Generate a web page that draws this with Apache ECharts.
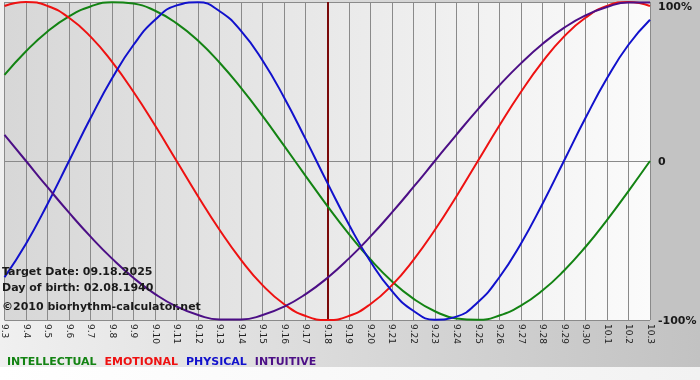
<!DOCTYPE html>
<html>
<head>
<meta charset="utf-8">
<script src="https://cdn.jsdelivr.net/npm/echarts@6/dist/echarts.min.js"></script>
<style>html,body{margin:0;padding:0;background:#fff}#c{width:700px;height:380px}</style>
</head>
<body>
<div id="c"></div>
<script>
// Categories: days from Sep 3 to Oct 3
const categories = ['9.3','9.4','9.5','9.6','9.7','9.8','9.9','9.10','9.11','9.12','9.13','9.14','9.15','9.16','9.17','9.18','9.19','9.20','9.21','9.22','9.23','9.24','9.25','9.26','9.27','9.28','9.29','9.30','10.1','10.2','10.3'];
const intellectual = [54.1,69.0,81.5,91.0,97.2,99.9,99.0,94.5,86.6,75.6,61.8,45.8,28.2,9.5,-9.5,-28.2,-45.8,-61.8,-75.6,-86.6,-94.5,-99.0,-99.9,-97.2,-91.0,-81.5,-69.0,-54.1,-37.2,-18.9,0];
const emotional = [97.5,100,97.5,90.1,78.2,62.3,43.4,22.3,0,-22.3,-43.4,-62.3,-78.2,-90.1,-97.5,-100,-97.5,-90.1,-78.2,-62.3,-43.4,-22.3,0,22.3,43.4,62.3,78.2,90.1,97.5,100,97.5];
const physical = [-73.1,-52.0,-27.0,0,27.0,52.0,73.1,88.8,97.9,99.8,94.2,81.7,63.1,39.8,13.6,-13.6,-39.8,-63.1,-81.7,-94.2,-99.8,-97.9,-88.8,-73.1,-52.0,-27.0,0,27.0,52.0,73.1,88.8];
const intuitive = [16.5,0,-16.5,-32.5,-47.6,-61.4,-73.6,-83.7,-91.6,-96.9,-99.7,-99.7,-96.9,-91.6,-83.7,-73.6,-61.4,-47.6,-32.5,-16.5,0,16.5,32.5,47.6,61.4,73.6,83.7,91.6,96.9,99.7,99.7];
const seriesNames = ['INTELLECTUAL','EMOTIONAL','PHYSICAL','INTUITIVE'];
const yTicks = [-100, 0, 100];
const yTickLabels = ['-100%', '0', '100%'];
const targetDay = '9.18';
const infoLines = ['Target Date: 09.18.2025', 'Day of birth: 02.08.1940', '\u00a92010 biorhythm-calculator.net'];

const FONT = 'Verdana, "DejaVu Sans", sans-serif';
const colors = ['#138313', '#ee1111', '#1111cc', '#4c0f86'];
const dataSets = [intellectual, emotional, physical, intuitive];

const chart = echarts.init(document.getElementById('c'), null, {renderer: 'canvas'});

const series = seriesNames.map((name, i) => ({
  name: name,
  type: 'line',
  data: dataSets[i],
  smooth: true,
  symbol: 'none',
  lineStyle: {width: 2, color: colors[i]},
  itemStyle: {color: colors[i]},
  z: 3 + i,
  markLine: i === 0 ? {
    silent: true,
    symbol: 'none',
    label: {show: false},
    lineStyle: {color: '#7a0a0a', width: 2, type: 'solid'},
    data: [{xAxis: targetDay}],
    z: 2
  } : undefined
}));

chart.setOption({
  animation: false,
  backgroundColor: new echarts.graphic.LinearGradient(0, 0, 1, 0, [
    {offset: 0, color: '#f0f0f0'}, {offset: 1, color: '#c2c2c2'}
  ]),
  graphic: [
    {type: 'rect', shape: {x: 0, y: 367, width: 700, height: 13}, style: {fill: new echarts.graphic.LinearGradient(0,0,1,0,[{offset:0,color:'#ffffff'},{offset:1,color:'#f2f2f2'}])}, z: -10, silent: true},
    {type: 'rect', shape: {x: 650, y: 0, width: 50, height: 320}, style: {fill: '#c3c3c3'}, z: -10, silent: true},
    {type: 'text', left: 2, top: 267, style: {text: infoLines[0], font: 'bold 11px ' + FONT, fill: '#1a1a1a'}, z: 100},
    {type: 'text', left: 2, top: 283, style: {text: infoLines[1], font: 'bold 11px ' + FONT, fill: '#1a1a1a'}, z: 100},
    {type: 'text', left: 2, top: 302, style: {text: infoLines[2], font: 'bold 11px ' + FONT, fill: '#1a1a1a'}, z: 100}
  ],
  legend: {
    left: -3,
    top: 352,
    itemWidth: 0,
    itemHeight: 0,
    itemGap: 3,
    icon: 'rect',
    selectedMode: false,
    data: seriesNames.map((n, i) => ({name: n, textStyle: {color: colors[i]}})),
    textStyle: {fontFamily: FONT, fontWeight: 'bold', fontSize: 11, padding: 0}
  },
  grid: {
    left: 0, right: 50, top: 2, bottom: 60,
    show: true,
    borderWidth: 0,
    backgroundColor: new echarts.graphic.LinearGradient(0, 0, 1, 0, [
      {offset: 0, color: '#d7d7d7'}, {offset: 1, color: '#fbfbfb'}
    ])
  },
  xAxis: {
    type: 'category',
    data: categories,
    boundaryGap: false,
    axisLine: {show: true, lineStyle: {color: '#8a8a8a', width: 1}},
    axisTick: {show: true, length: 4, interval: 0, lineStyle: {color: '#8a8a8a'}},
    axisLabel: {interval: 0, rotate: -90, margin: 4, fontFamily: FONT, fontSize: 9, color: '#222'},
    splitLine: {show: true, interval: 0, lineStyle: {color: '#8a8a8a', width: 1}}
  },
  yAxis: {
    type: 'value',
    position: 'right',
    min: -100, max: 100, interval: 100,
    axisLine: {show: false},
    axisTick: {show: false},
    splitLine: {show: true, lineStyle: {color: '#8a8a8a', width: 1}},
    axisLabel: {
      margin: 8,
      formatter: function (v) {
        const idx = yTicks.indexOf(v);
        const t = idx >= 0 ? yTickLabels[idx] : '';
        return v === 100 ? '{t|' + t + '}' : '{o|' + t + '}';
      },
      rich: {
        t: {fontFamily: FONT, fontWeight: 'bold', fontSize: 11, color: '#1a1a1a', padding: [11, 0, 0, 0]},
        o: {fontFamily: FONT, fontWeight: 'bold', fontSize: 11, color: '#1a1a1a', padding: [3, 0, 0, 0]}
      }
    }
  },
  series: series
});
</script>
</body>
</html>
